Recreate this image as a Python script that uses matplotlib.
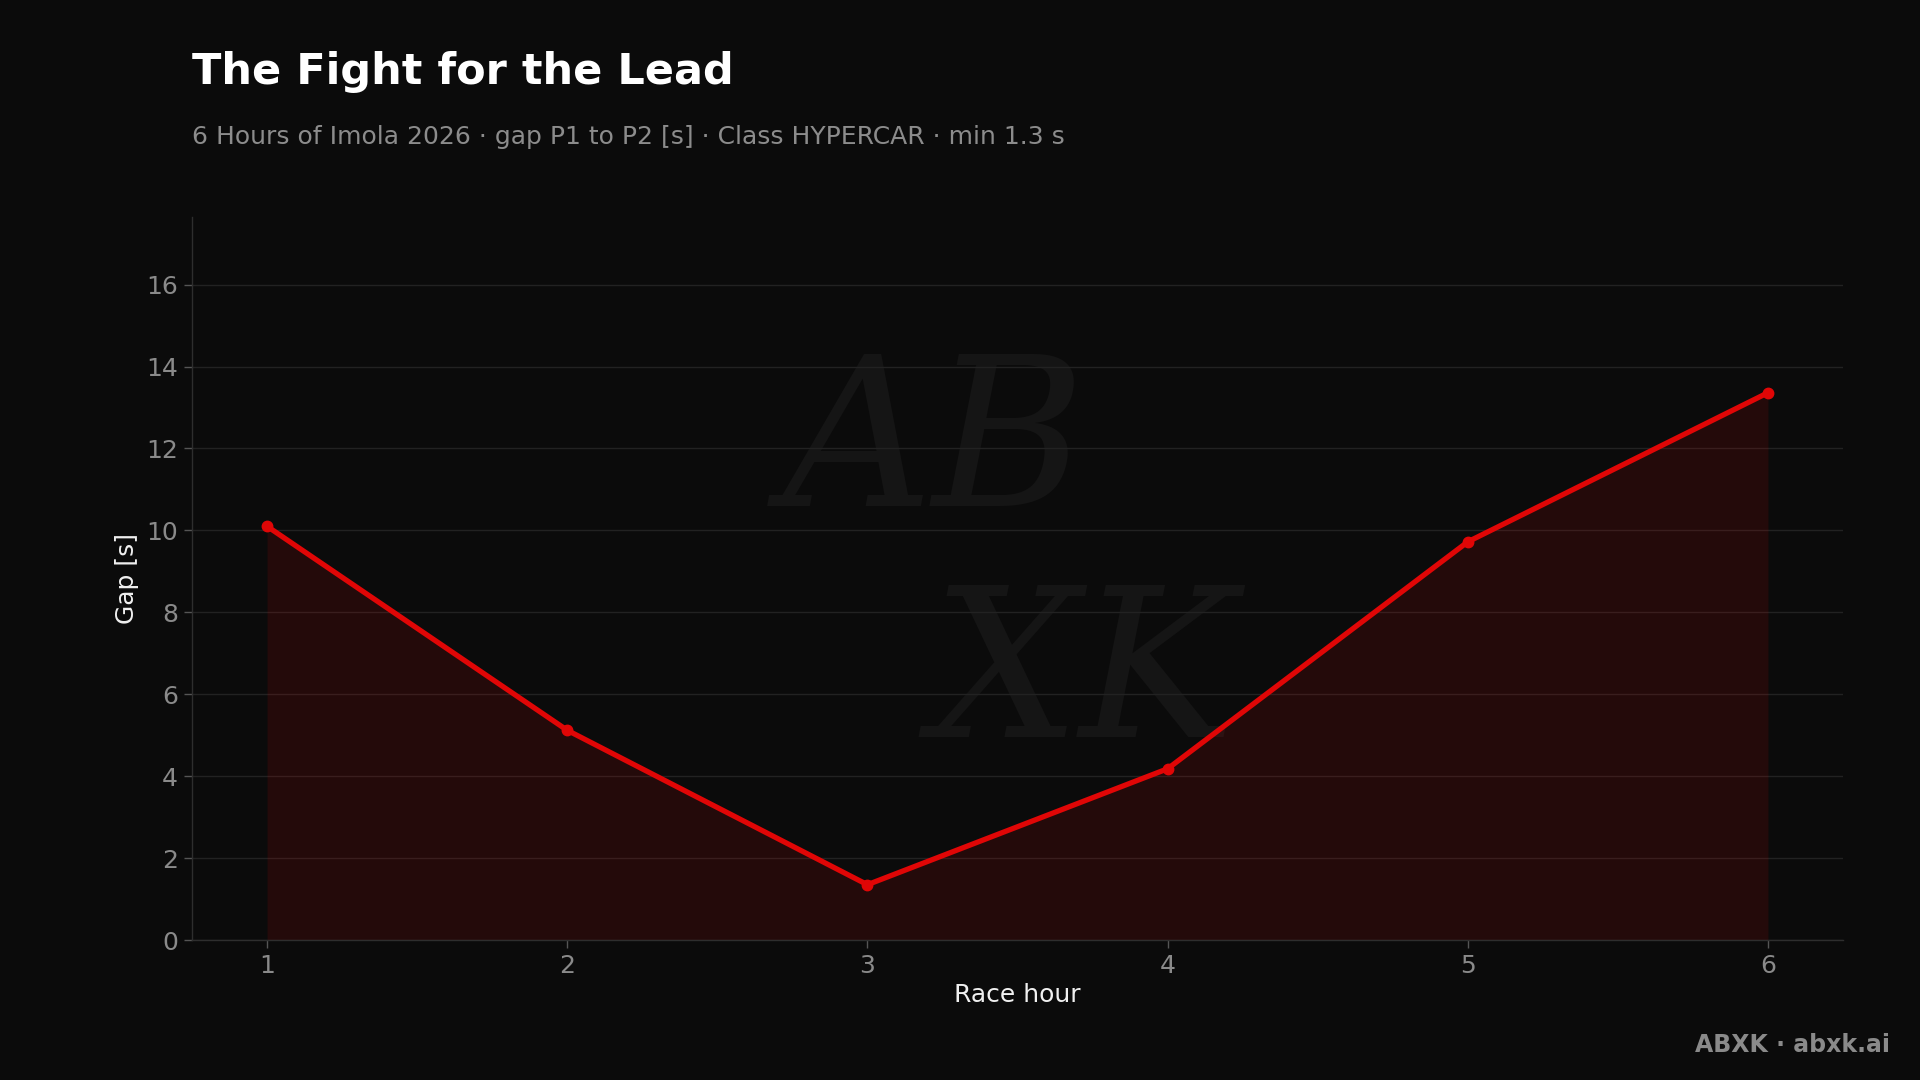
import numpy as np
from matplotlib import pyplot as plt

# Data
race_hours = [1, 2, 3, 4, 5, 6]
gap_p1_p2 = [10.1, 5.12, 1.35, 4.18, 9.72, 13.36]
y_ticks = [0, 2, 4, 6, 8, 10, 12, 14, 16]

bg = "#0b0b0b"
red = "#e00606"

plt.close("all")
fig = plt.figure(figsize=(19.2, 10.8), dpi=100, facecolor=bg)
ax = fig.add_axes([192 / 1920, 1 - 940 / 1080, (1843 - 192) / 1920, (940 - 217) / 1080])
ax.set_facecolor(bg)

# Faint signature watermark
ax.text(0.45, 0.68, "AB", transform=ax.transAxes, ha="center", va="center",
        fontsize=150, style="italic", family="DejaVu Serif", color="#151515", zorder=0.5)
ax.text(0.54, 0.36, "XK", transform=ax.transAxes, ha="center", va="center",
        fontsize=150, style="italic", family="DejaVu Serif", color="#151515", zorder=0.5)

ax.fill_between(race_hours, gap_p1_p2, 0, color=red, alpha=0.12, linewidth=0, zorder=1)
ax.plot(race_hours, gap_p1_p2, color=red, linewidth=3.8, marker="o", markersize=7.5, zorder=3)

ax.set_xlim(0.75, 6.25)
ax.set_ylim(0, 17.65)
ax.set_xticks(race_hours)
ax.set_yticks(y_ticks)
ax.grid(axis="y", color="#222222", linewidth=1)
ax.set_axisbelow(True)

for side in ["top", "right"]:
    ax.spines[side].set_visible(False)
for side in ["left", "bottom"]:
    ax.spines[side].set_color("#2e2e2e")
    ax.spines[side].set_linewidth(1)
ax.tick_params(colors="#8a8a8a", labelsize=18, length=6, width=1, pad=4)
ax.tick_params(axis="both", color="#555555")

ax.set_xlabel("Race hour", color="#f0f0f0", fontsize=18, labelpad=4)
ax.set_ylabel("Gap [s]", color="#f0f0f0", fontsize=18, labelpad=5)

fig.text(192 / 1920, 1 - 72 / 1080, "The Fight for the Lead", color="white",
         fontsize=31, fontweight="bold", ha="left", va="center")
fig.text(192 / 1920, 1 - 137 / 1080,
         "6 Hours of Imola 2026 \u00b7 gap P1 to P2 [s] \u00b7 Class HYPERCAR \u00b7 min 1.3 s",
         color="#8c8c8c", fontsize=18, ha="left", va="center")
fig.text(1890 / 1920, 1 - 1045 / 1080, "ABXK \u00b7 abxk.ai", color="#8a8a8a",
         fontsize=17, fontweight="bold", ha="right", va="center")

plt.savefig("out.png", dpi=100, facecolor=bg)
